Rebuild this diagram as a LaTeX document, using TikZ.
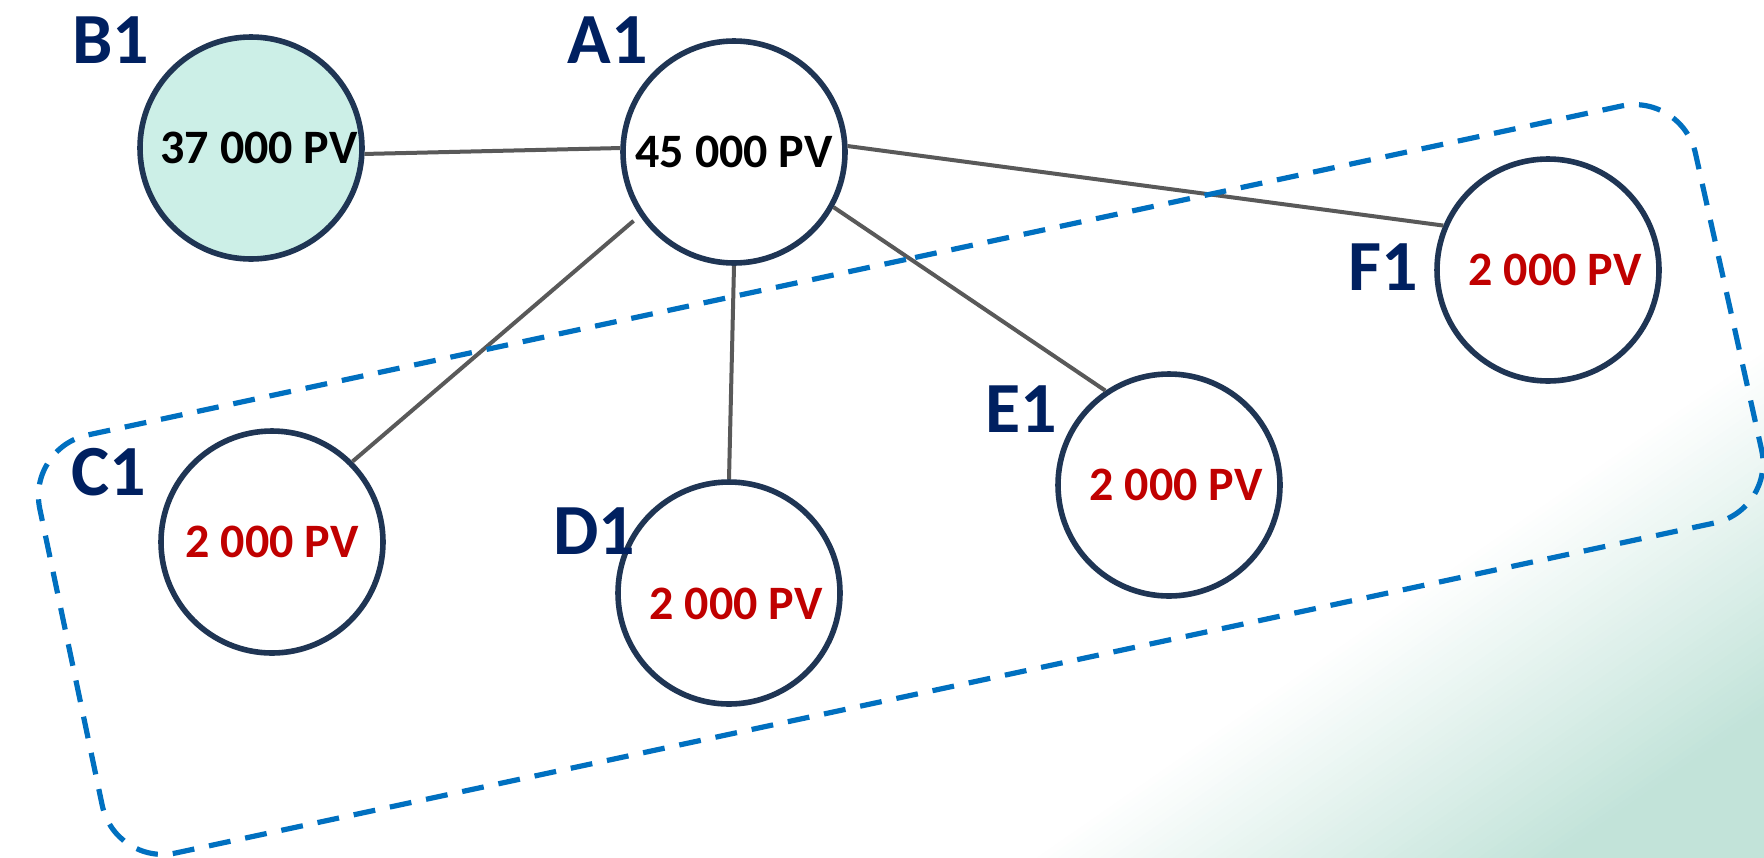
\documentclass[tikz,border=0pt]{standalone}
\usepackage{fontspec}
\setmainfont{Carlito}
\usetikzlibrary{calc}

\definecolor{navy}{RGB}{0,32,96}
\definecolor{ringblue}{RGB}{31,53,84}
\definecolor{mint}{RGB}{204,239,231}
\definecolor{linegray}{RGB}{89,89,89}
\definecolor{dashblue}{RGB}{0,112,192}
\definecolor{pvred}{RGB}{192,0,0}
\definecolor{bgteal}{RGB}{194,227,217}

\tikzset{
  pvnode/.style={circle, draw=ringblue, line width=2.8pt, fill=white, minimum size=111pt, inner sep=0pt, font=\fontsize{24}{28}\selectfont\bfseries},
  idlabel/.style={text=navy, inner sep=0pt, font=\fontsize{36}{40}\selectfont\bfseries},
  link/.style={draw=linegray, line width=2pt},
  group/.style={draw=dashblue, line width=2.6pt, dash pattern=on 11pt off 7.5pt, rounded corners=31pt}
}

\begin{document}
\begin{tikzpicture}[x=0.5pt,y=-0.5pt]
    \useasboundingbox (0,0) rectangle (1764,857);
    \fill[white] (0,0) rectangle (1764,857);

    % soft teal corner
    \begin{scope}
      \clip (0,0) rectangle (1764,857);
      \begin{scope}[rotate around={34.8:(1764,857)}]
        \foreach \s in {420,414,...,120} {
          \pgfmathtruncatemacro{\pct}{(420-\s)/3}
          \fill[bgteal!\pct!white] (764,857-\s) rectangle (2764,957);
        }
      \end{scope}
    \end{scope}

    \node[pvnode, fill=mint] (bnode) at (251,148) {\hspace*{8pt}37 000 PV};
    \node[pvnode] (anode) at (734,152) {45 000 PV};
    \node[pvnode, text=pvred] (cnode) at (272,542) {2 000 PV};
    \node[pvnode, text=pvred, text height=26.5pt] (dnode) at (729,593) {\hspace*{7pt}2 000 PV};
    \node[pvnode, text=pvred] (enode) at (1169,485) {\hspace*{7pt}2 000 PV};
    \node[pvnode, text=pvred] (fnode) at (1548,270) {\hspace*{7pt}2 000 PV};

    \draw[link] (bnode.-3) -- (anode.178);
    \draw[link] (anode.3) -- (fnode.157);
    \draw[link] (anode.-29) -- (enode.124);
    \draw[link] (anode.south) -- (dnode.north);
    \draw[link, shorten <=4pt] (anode.-146) -- (cnode.45);

    % dashed group
    \coordinate (gtl) at (27,448);
    \coordinate (gtr) at (1682,93);
    \coordinate (gbr) at (1775,510);
    \coordinate (gbl) at (115,866);
    \draw[group] ($(gtl)!0.5!(gtr)$) -- (gtr) -- (gbr) -- (gbl) -- (gtl) -- cycle;

    \node[idlabel] (blabel) at (111,40) {B1};
    \node[idlabel] (alabel) at (608,40) {A1};
    \node[idlabel] (clabel) at (109,472) {C1};
    \node[idlabel] (dlabel) at (594,531) {D1};
    \node[idlabel] (elabel) at (1021,409) {E1};
    \node[idlabel] (flabel) at (1383,267) {F1};

\end{tikzpicture}
\end{document}
